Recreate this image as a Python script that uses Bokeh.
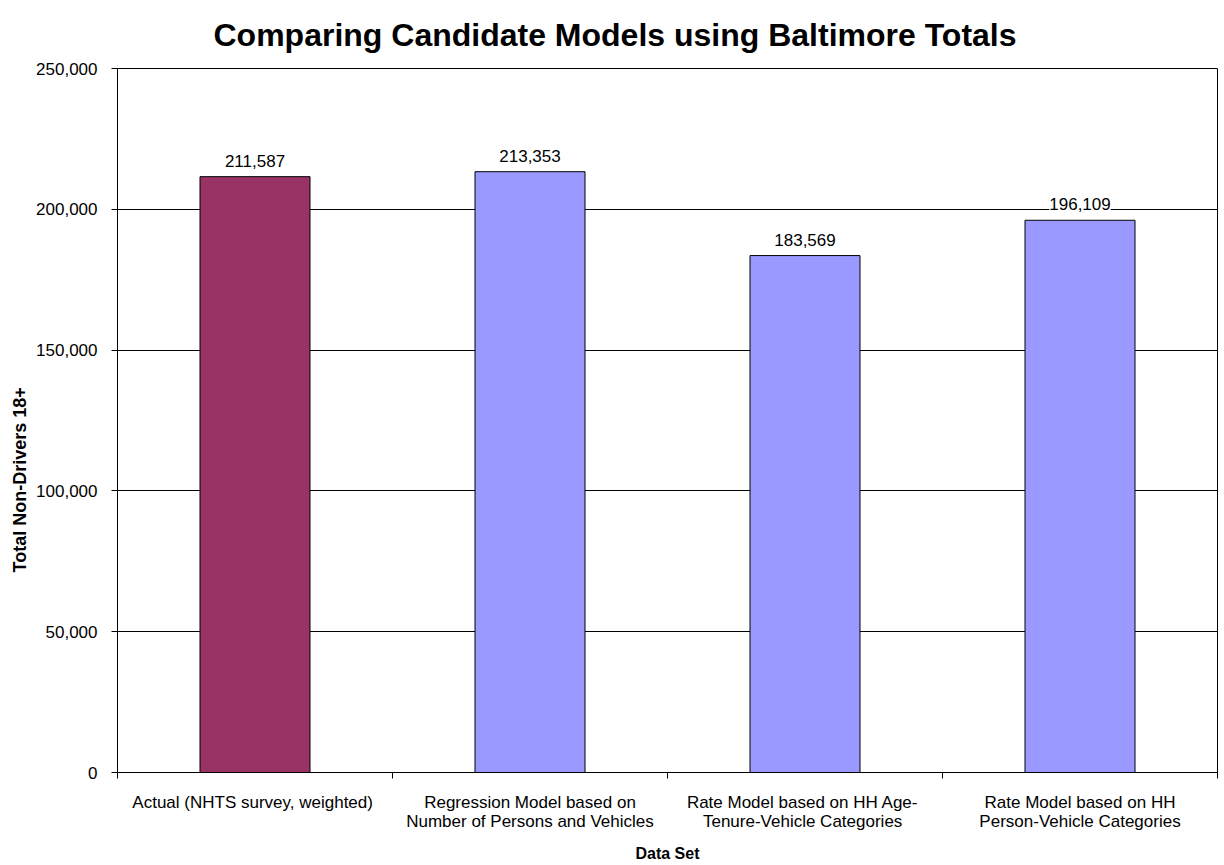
from bokeh.plotting import figure
from bokeh.models import (ColumnDataSource, LabelSet, Title, FixedTicker, NumeralTickFormatter,
                          Range1d)
from bokeh.core.properties import value
from bokeh.embed import file_html
from bokeh.resources import INLINE

# ---- data ----
categories = [
    "Actual (NHTS  survey, weighted)",
    "Regression Model based on\nNumber of Persons and Vehicles",
    "Rate Model based on HH  Age-\nTenure-Vehicle  Categories",
    "Rate Model based on HH\nPerson-Vehicle Categories",
]
values = [211587, 213353, 183569, 196109]
y_ticks = [0, 50000, 100000, 150000, 200000, 250000]

title_text = "Comparing Candidate Models using Baltimore Totals"
x_title = "Data Set"
y_title = "Total Non-Drivers  18+"

# ---- styling ----
FONT = "Liberation Sans"
highlight_color = "#993366"
base_color = "#9999FF"

xs = list(range(1, len(categories) + 1))
colors = [highlight_color] + [base_color] * (len(categories) - 1)
labels = [f"{v:,}" for v in values]
src = ColumnDataSource(dict(x=xs, top=values, color=colors, label=labels))

p = figure(width=1224, height=865, output_backend="svg", toolbar_location=None,
           x_range=Range1d(0.5, len(categories) + 0.5), y_range=Range1d(0, 250000),
           min_border_left=117, min_border_right=7, min_border_top=68, min_border_bottom=93,
           background_fill_color="white", border_fill_color="white")

p.title.text = title_text
p.title.align = "left"
p.title.offset = 96
p.title.vertical_align = "top"
p.title.standoff = 28
p.title.text_font = FONT
p.title.text_font_size = "32px"
p.title.text_font_style = "bold"
p.title.text_color = "black"

p.vbar(x="x", top="top", width=0.4, bottom=0, source=src, fill_color="color",
       line_color="black", line_width=1)

lbl = LabelSet(x="x", y="top", text="label", source=src, text_align="center",
               text_baseline="middle", y_offset=16, text_font=value(FONT),
               text_font_size=value("17px"), text_color="black",
               background_fill_color="white")
p.add_layout(lbl)

# y-axis title, placed like the original (starting 200px above the frame bottom)
ytitle = Title(text=y_title, align="left", offset=200, standoff=7,
               text_font=FONT, text_font_size="18px", text_font_style="bold",
               text_color="black")
p.add_layout(ytitle, "left")

# axes
p.xaxis.ticker = FixedTicker(ticks=xs, minor_ticks=[x + 0.5 for x in [0] + xs])
p.xaxis.major_label_overrides = {x: c for x, c in zip(xs, categories)}
p.xaxis.major_tick_out = 0
p.xaxis.major_tick_in = 0
p.xaxis.minor_tick_out = 6
p.xaxis.minor_tick_in = 0
p.xaxis.minor_tick_line_color = "black"
p.xaxis.major_label_standoff = 14
p.xaxis.major_label_text_font = FONT
p.xaxis.major_label_text_font_size = "17px"
p.xaxis.major_label_text_line_height = 1.05
p.xaxis.major_label_text_color = "black"
p.xaxis.axis_label = x_title
p.xaxis.axis_label_text_font = FONT
p.xaxis.axis_label_text_font_size = "16px"
p.xaxis.axis_label_text_font_style = "bold"
p.xaxis.axis_label_text_color = "black"
p.xaxis.axis_label_standoff = 11
p.xaxis.axis_line_color = "black"

p.yaxis.ticker = FixedTicker(ticks=y_ticks)
p.yaxis.formatter = NumeralTickFormatter(format="0,0")
p.yaxis.major_tick_out = 6
p.yaxis.major_tick_in = 0
p.yaxis.minor_tick_line_color = None
p.yaxis.major_tick_line_color = "black"
p.yaxis.major_label_standoff = 14
p.yaxis.major_label_text_font = FONT
p.yaxis.major_label_text_font_size = "17px"
p.yaxis.major_label_text_color = "black"
p.yaxis.axis_line_color = "black"

p.xgrid.grid_line_color = None
p.ygrid.grid_line_color = "black"
p.ygrid.grid_line_width = 1
p.outline_line_color = "black"

open("out.html", "w").write(file_html(p, INLINE))
